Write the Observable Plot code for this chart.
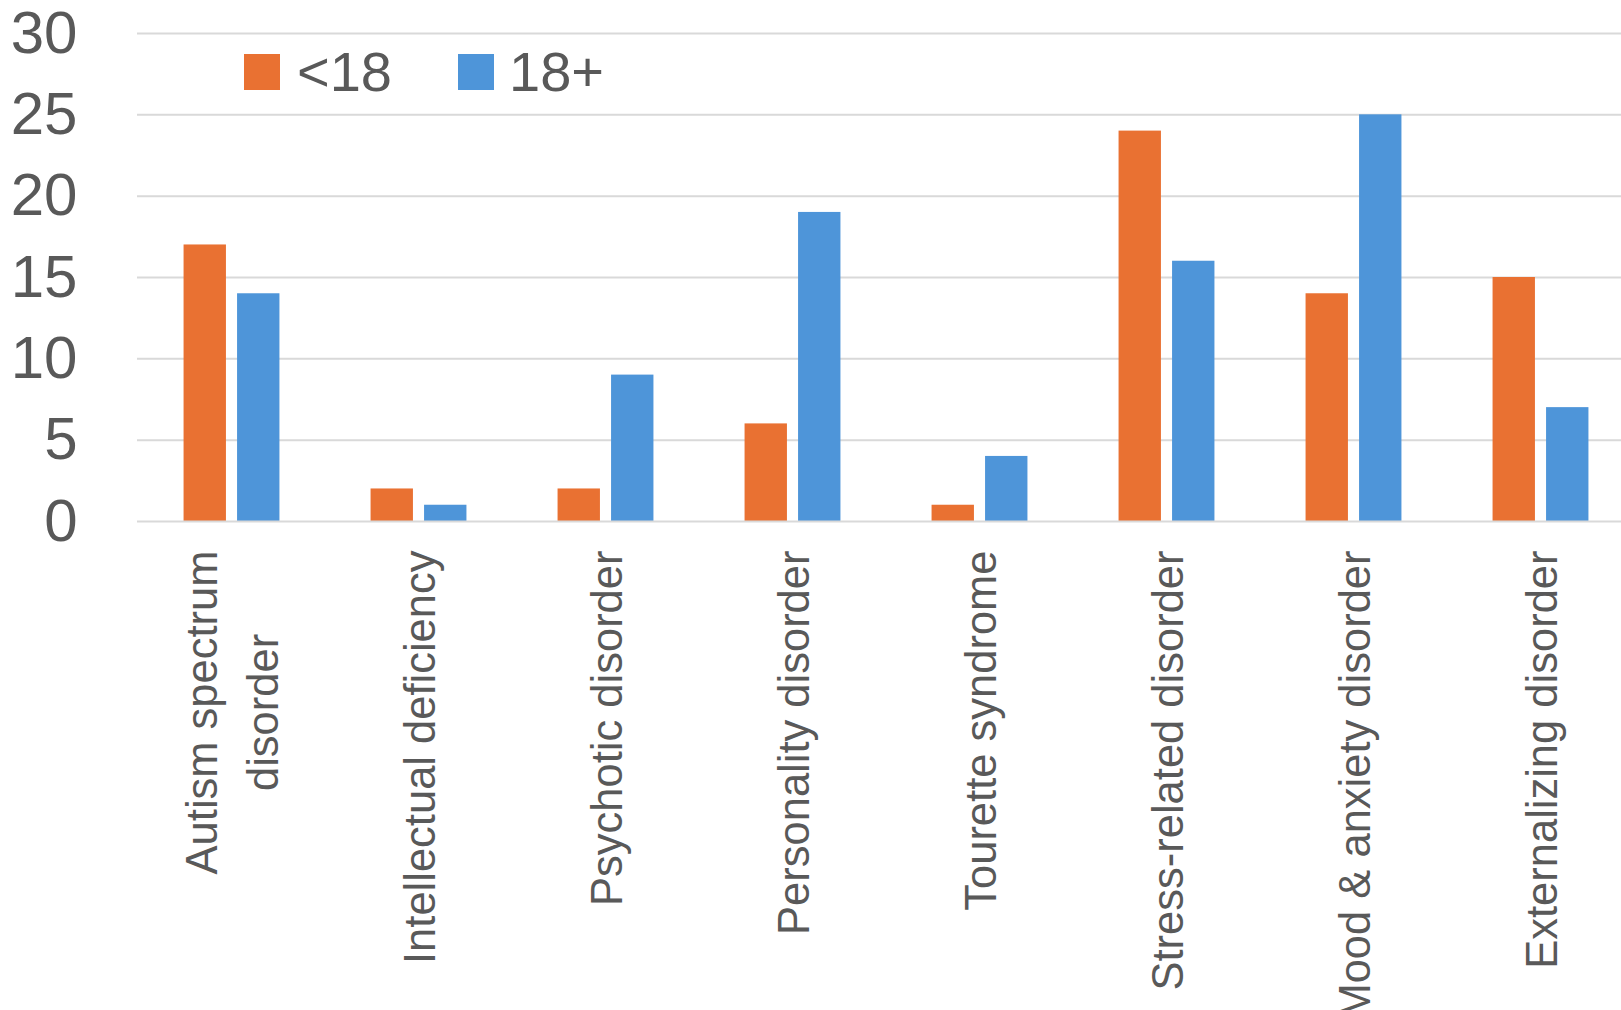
<!DOCTYPE html>
<html>
<head>
<meta charset="utf-8">
<script src="https://cdn.jsdelivr.net/npm/d3@7"></script>
<script src="https://cdn.jsdelivr.net/npm/@observablehq/plot@0.6"></script>
<style>
  html, body { margin: 0; padding: 0; background: #fff; }
  #wrap { position: relative; width: 1621px; height: 1010px; font-family: "Liberation Sans", Arial, sans-serif; }
  #legend { position: absolute; left: 244px; top: 44px; display: flex; align-items: center;
            font-size: 56px; line-height: 1; color: #595959; }
  #legend .sw { width: 36px; height: 36px; display: inline-block; }
</style>
</head>
<body>
<div id="wrap"><div id="legend"></div></div>
<script>
// ---- data ----
const categories = [
  "Autism spectrum\ndisorder",
  "Intellectual deficiency",
  "Psychotic disorder",
  "Personality disorder",
  "Tourette syndrome",
  "Stress-related disorder",
  "Mood & anxiety disorder",
  "Externalizing disorder"
];
const under18 = [17, 2, 2, 6, 1, 24, 14, 15];
const adult18 = [14, 1, 9, 19, 4, 16, 25, 7];
const seriesNames = ["<18", "18+"];
const yTicks = [0, 5, 10, 15, 20, 25, 30];

// ---- style ----
const colors = ["#E97132", "#4E95D9"];
const textColor = "#595959";
const gridColor = "#D9D9D9";
const fontFamily = "'Liberation Sans', Arial, sans-serif";
const W = 1621, H = 1010;
const xRange = [137, 1634];
const barW = 42.5, gap = 11;
const labelFont = 43.5;

const rows = categories.map((c, i) => ({category: c, a: under18[i], b: adult18[i]}));
const bw = (xRange[1] - xRange[0]) / categories.length;
const innerInset = bw / 2 - gap / 2 - barW;
const outerInset = bw / 2 + gap / 2;

// measure label widths
const ctx = document.createElement("canvas").getContext("2d");
ctx.font = `${labelFont}px ${fontFamily}`;
const labelMarks = categories.map(c => {
  const maxW = d3.max(c.split("\n"), s => ctx.measureText(s).width);
  return Plot.text([c], {
    x: d => d, text: d => d, frameAnchor: "bottom",
    rotate: -90, textAnchor: "middle", lineAnchor: "middle", lineHeight: 1.4,
    dx: -4, dy: 29 + maxW / 2, fontSize: labelFont, fill: textColor, fontFamily
  });
});

const chart = Plot.plot({
  width: W, height: H,
  marginLeft: xRange[0], marginRight: 0, marginTop: 33, marginBottom: H - 521,
  style: {fontFamily, background: "#fff", overflow: "visible"},
  x: {type: "band", domain: categories, range: xRange, padding: 0, axis: null},
  y: {domain: [0, 30], label: null},
  marks: [
    Plot.ruleY(yTicks.filter(t => t > 0), {stroke: gridColor, strokeWidth: 2}),
    Plot.barY(rows, {x: "category", y: "a", fill: colors[0], insetLeft: innerInset, insetRight: outerInset}),
    Plot.barY(rows, {x: "category", y: "b", fill: colors[1], insetLeft: outerInset, insetRight: innerInset}),
    Plot.ruleY([0], {stroke: gridColor, strokeWidth: 2}),
    Plot.axisY(yTicks, {tickSize: 0, tickPadding: 60, fontSize: 60, color: textColor, fontFamily, label: null}),
    ...labelMarks
  ]
});
const wrap = document.getElementById("wrap");
wrap.insertBefore(chart, wrap.firstChild);

// legend
const legend = document.getElementById("legend");
seriesNames.forEach((name, i) => {
  const sw = document.createElement("span");
  sw.className = "sw"; sw.style.background = colors[i];
  sw.style.marginLeft = i === 0 ? "0px" : "66px";
  const t = document.createElement("span");
  t.textContent = name; t.style.marginLeft = i === 0 ? "17px" : "15px";
  legend.appendChild(sw); legend.appendChild(t);
});
</script>
</body>
</html>
